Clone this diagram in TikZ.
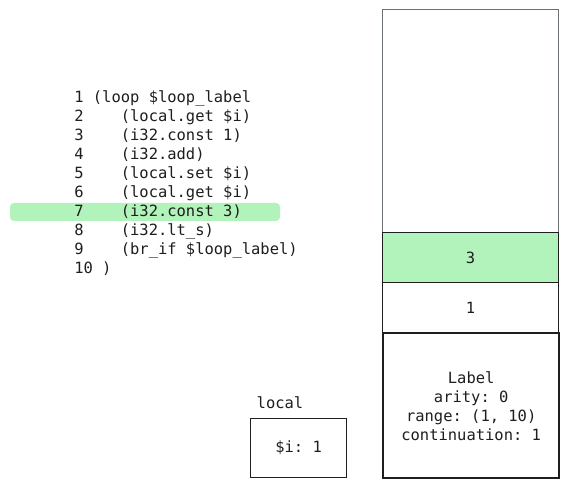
\documentclass[tikz,border=0pt]{standalone}
\usepackage{fontspec}
\setmonofont{DejaVu Sans Mono}
\definecolor{hlgreen}{HTML}{B2F2BB}
\definecolor{ink}{HTML}{1E1E1E}
\definecolor{frame}{HTML}{6C7178}
\begin{document}
\begin{tikzpicture}[x=0.75pt,y=-0.75pt,
  code/.style={anchor=west,inner sep=0pt,font=\fontsize{11.6pt}{14.25pt}\ttfamily,text=ink},
  cell/.style={draw=ink,line width=0.9pt,anchor=north west,minimum width=132pt,inner sep=0pt,
    font=\fontsize{11.6pt}{14.25pt}\ttfamily,text=ink},
  txt/.style={inner sep=0pt,font=\fontsize{11.6pt}{14.25pt}\ttfamily,text=ink}]
\useasboundingbox (0,0) rectangle (569,488);
% highlighted current instruction
\fill[hlgreen,rounded corners=3pt] (10,203) rectangle (280,221);
% source listing
\node[code] (l1)  at (74,98)  {1 (loop \$loop\_label};
\node[code] (l2)  at (74,117) {2\ \ \ \ (local.get \$i)};
\node[code] (l3)  at (74,136) {3\ \ \ \ (i32.const 1)};
\node[code] (l4)  at (74,155) {4\ \ \ \ (i32.add)};
\node[code] (l5)  at (74,174) {5\ \ \ \ (local.set \$i)};
\node[code] (l6)  at (74,193) {6\ \ \ \ (local.get \$i)};
\node[code] (l7)  at (74,212) {7\ \ \ \ (i32.const 3)};
\node[code] (l8)  at (74,231) {8\ \ \ \ (i32.lt\_s)};
\node[code] (l9)  at (74,250) {9\ \ \ \ (br\_if \$loop\_label)};
\node[code] (l10) at (74,269) {10 )};
% value / control stack
\node[draw=frame,line width=0.9pt,anchor=north west,minimum width=132pt,minimum height=351pt,inner sep=0pt] (stack) at (382,9) {};
\node[cell,fill=hlgreen,minimum height=37.5pt] (v3) at (382,232) {3};
\node[cell,minimum height=37.5pt] (v1) at (382,282) {1};
\node[cell,draw=ink,line width=1.8pt,minimum height=108.75pt,align=center] (lbl) at (382,332)
  {Label\\arity: 0\\range: (1, 10)\\continuation: 1};
% locals
\node[txt] (loctitle) at (280,403) {local};
\node[draw=ink,line width=0.9pt,anchor=north west,minimum width=72pt,minimum height=44.25pt,inner sep=0pt,
  font=\fontsize{11.6pt}{14.25pt}\ttfamily,text=ink] (loc) at (250,418) {\$i: 1};
\end{tikzpicture}
\end{document}
